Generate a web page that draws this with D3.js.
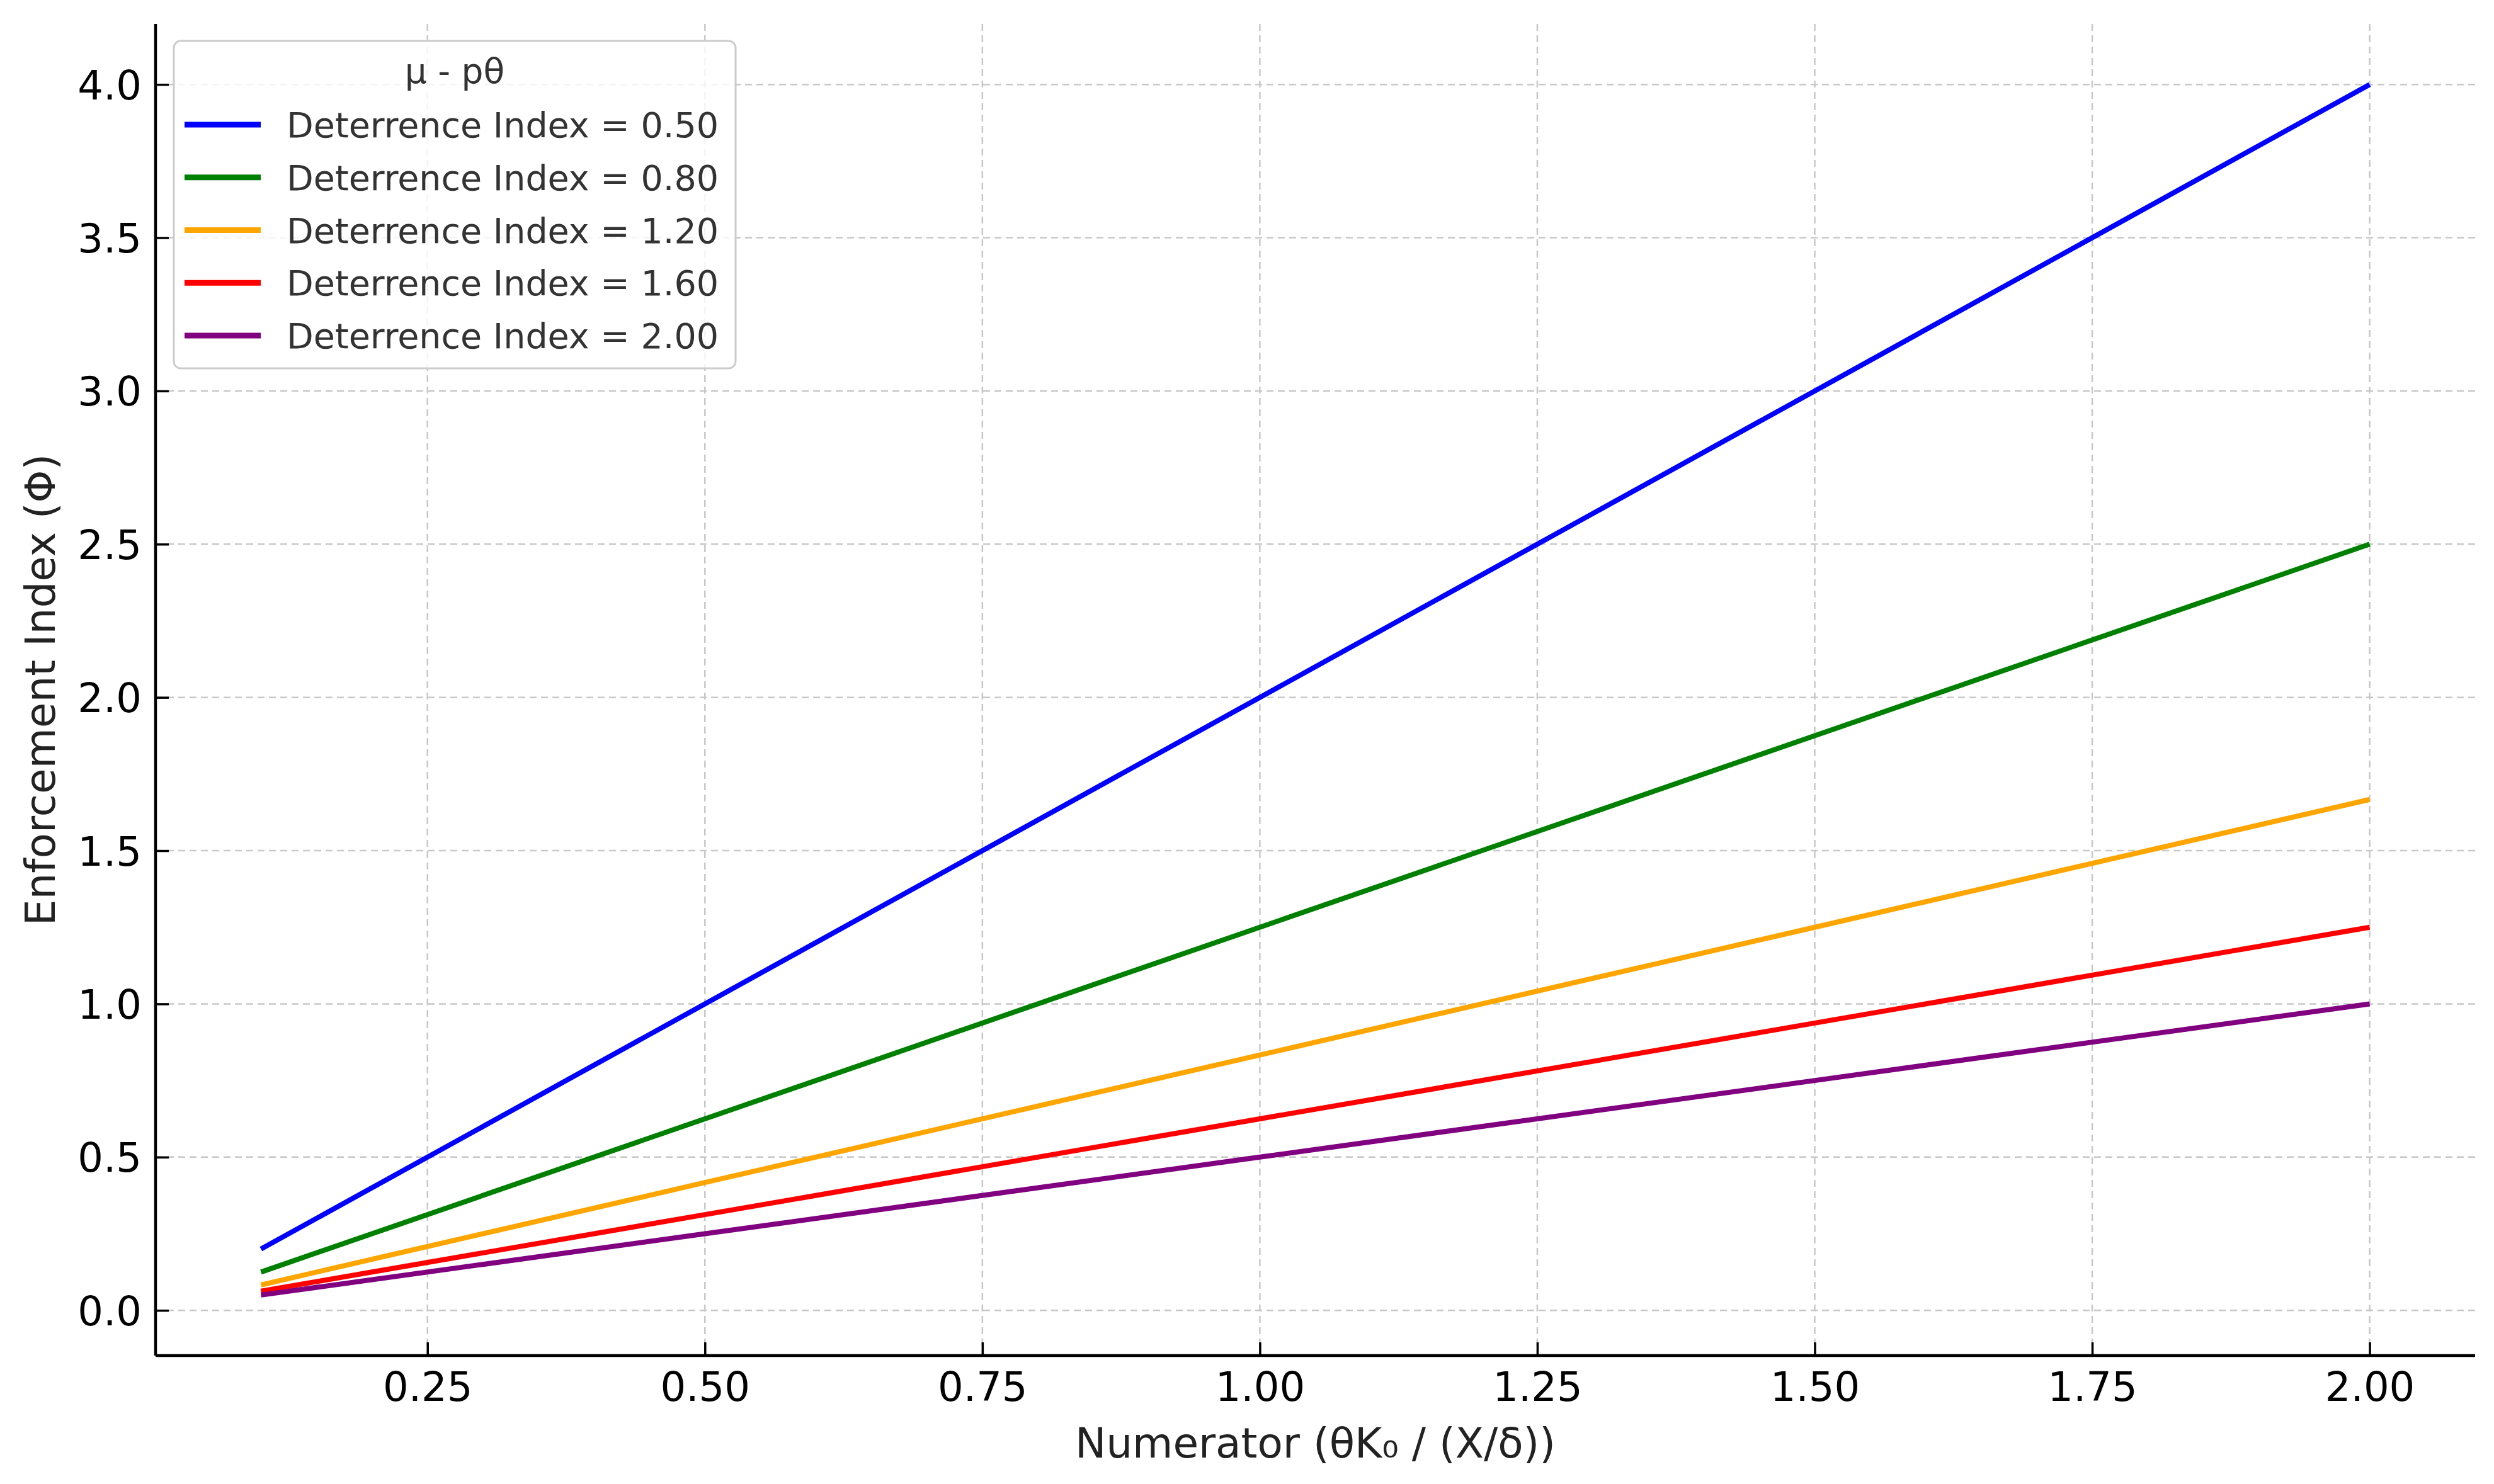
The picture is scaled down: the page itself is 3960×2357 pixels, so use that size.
<!DOCTYPE html>
<html>
<head>
<meta charset="utf-8">
<script src="https://cdn.jsdelivr.net/npm/d3@7"></script>
<style>
  html, body { margin: 0; padding: 0; background: #fff; }
  svg { display: block; font-family: "DejaVu Sans", sans-serif; }
</style>
</head>
<body>
<svg id="chart" width="3960" height="2357"></svg>
<script>
// ---- data ----
const xValues = [0.1, 0.5, 1.0, 1.5, 2.0];
const deterrenceLabels = ["Deterrence Index = 0.50", "Deterrence Index = 0.80", "Deterrence Index = 1.20", "Deterrence Index = 1.60", "Deterrence Index = 2.00"];
const seriesColors = ["#0000ff", "#008000", "#ffa500", "#ff0000", "#800080"];
const seriesD050 = [0.2, 1.0, 2.0, 3.0, 4.0];
const seriesD080 = [0.125, 0.625, 1.25, 1.875, 2.5];
const seriesD120 = [0.083, 0.417, 0.833, 1.25, 1.667];
const seriesD160 = [0.0625, 0.3125, 0.625, 0.9375, 1.25];
const seriesD200 = [0.05, 0.25, 0.5, 0.75, 1.0];
const xTicks = [0.25, 0.50, 0.75, 1.00, 1.25, 1.50, 1.75, 2.00];
const yTicks = [0.0, 0.5, 1.0, 1.5, 2.0, 2.5, 3.0, 3.5, 4.0];
const legendTitle = "μ - pθ";
const xLabel = "Numerator (θK₀ / (X/δ))";
const yLabel = "Enforcement Index (Φ)";

const allSeries = [seriesD050, seriesD080, seriesD120, seriesD160, seriesD200];

// ---- layout ----
const L = 247, R = 3930, T = 38, B = 2153;
const svg = d3.select("#chart");

const x = d3.scaleLinear().domain([0.005, 2.095]).range([L, R]);
const y = d3.scaleLinear().domain([-0.1475, 4.1975]).range([B, T]);

// grid
const grid = svg.append("g");
grid.selectAll(".vg").data(xTicks).enter().append("line")
  .attr("x1", d => x(d)).attr("x2", d => x(d)).attr("y1", T).attr("y2", B)
  .attr("stroke", "#c8c8c8").attr("stroke-width", 2.5).attr("stroke-dasharray", "11,7");
grid.selectAll(".hg").data(yTicks).enter().append("line")
  .attr("x1", L).attr("x2", R).attr("y1", d => y(d)).attr("y2", d => y(d))
  .attr("stroke", "#c8c8c8").attr("stroke-width", 2.5).attr("stroke-dasharray", "11,7");

// lines
const line = d3.line().x((d, i) => x(xValues[i])).y(d => y(d));
svg.append("g").selectAll("path").data(allSeries).enter().append("path")
  .attr("d", d => line(d))
  .attr("fill", "none")
  .attr("stroke", (d, i) => seriesColors[i])
  .attr("stroke-width", 8)
  .attr("stroke-linecap", "butt");

// axes
const xAxis = d3.axisBottom(x).tickValues(xTicks).tickFormat(d3.format(".2f")).tickSizeInner(-21).tickSizeOuter(0).tickPadding(46);
const yAxis = d3.axisLeft(y).tickValues(yTicks).tickFormat(d3.format(".1f")).tickSizeInner(-21).tickSizeOuter(0).tickPadding(22);

const gx = svg.append("g").attr("transform", `translate(0,${B})`).call(xAxis);
const gy = svg.append("g").attr("transform", `translate(${L},0)`).call(yAxis);

[gx, gy].forEach(g => {
  g.select(".domain").attr("stroke", "#000").attr("stroke-width", 4.5);
  g.selectAll(".tick line").attr("stroke", "#000").attr("stroke-width", 3.5);
  g.selectAll(".tick text").attr("fill", "#000").style("font-size", "64px").style("font-family", "DejaVu Sans");
});
gx.selectAll(".tick text").attr("dy", "0").attr("y", 72);
gx.select(".domain").attr("d", `M${L},0H${R}`);
gy.select(".domain").attr("d", `M0,${B}V${T}`);
gy.selectAll(".tick text").attr("x", -22).attr("dy", "0.36em");

// axis labels
svg.append("text").attr("x", (L + R) / 2).attr("y", 2315)
  .attr("text-anchor", "middle").attr("fill", "#222").style("font-size", "66px").text(xLabel);
svg.append("text").attr("transform", `translate(87,${(T + B) / 2}) rotate(-90)`)
  .attr("text-anchor", "middle").attr("fill", "#222").style("font-size", "66px").text(yLabel);

// legend
const lg = svg.append("g");
lg.append("rect").attr("x", 276).attr("y", 65).attr("width", 892).attr("height", 520)
  .attr("rx", 11).attr("ry", 11)
  .attr("fill", "#fff").attr("fill-opacity", 0.8)
  .attr("stroke", "#cccccc").attr("stroke-width", 3);
lg.append("text").attr("x", 722).attr("y", 132).attr("text-anchor", "middle")
  .attr("fill", "#333").style("font-size", "55px").text(legendTitle);
const rows = lg.selectAll(".row").data(deterrenceLabels).enter().append("g")
  .attr("transform", (d, i) => `translate(0,${218 + i * 83.75})`);
rows.append("line").attr("x1", 293).attr("x2", 414).attr("y1", -20).attr("y2", -20)
  .attr("stroke", (d, i) => seriesColors[i]).attr("stroke-width", 9);
rows.append("text").attr("x", 455).attr("y", 0).attr("fill", "#333")
  .style("font-size", "55.5px").text(d => d);
</script>
</body>
</html>
